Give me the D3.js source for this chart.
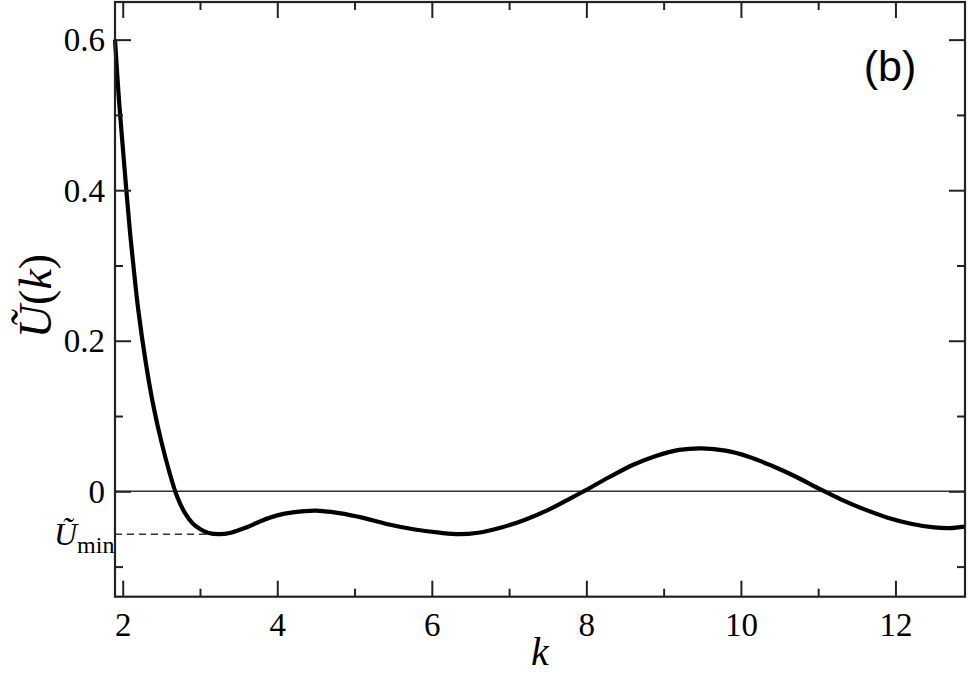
<!DOCTYPE html>
<html><head><meta charset="utf-8">
<script src="https://cdn.jsdelivr.net/npm/d3@7"></script>
<style>body{margin:0;background:#fff}svg{display:block}
.serif{font-family:"Liberation Serif","Times New Roman","DejaVu Serif",serif}
.sans{font-family:"Liberation Sans",Arial,sans-serif}
</style>
</head><body>
<script>
const kValues = [1.9,1.95,2.0,2.05,2.1,2.15,2.2,2.3,2.4,2.5,2.6,2.7,2.8,2.9,3.0,3.1,3.25,3.4,3.6,3.8,4.0,4.2,4.5,4.8,5.1,5.4,5.8,6.1,6.35,6.6,6.9,7.2,7.5,7.8,8.0,8.3,8.6,8.9,9.2,9.5,9.8,10.1,10.4,10.7,11.0,11.3,11.6,11.9,12.2,12.5,12.7,12.9];
const uValues = [0.600,0.522,0.458,0.396,0.338,0.288,0.242,0.170,0.112,0.066,0.027,-0.006,-0.028,-0.042,-0.050,-0.055,-0.057,-0.055,-0.048,-0.039,-0.032,-0.028,-0.0256,-0.029,-0.035,-0.043,-0.051,-0.055,-0.057,-0.055,-0.048,-0.038,-0.025,-0.009,0.002,0.019,0.035,0.047,0.055,0.057,0.054,0.046,0.034,0.020,0.004,-0.011,-0.024,-0.035,-0.043,-0.048,-0.049,-0.047];
const xMajorTicks = [2,4,6,8,10,12];
const xMinorTicks = [3,5,7,9,11];
const yMajorTicks = [0,0.2,0.4,0.6];
const yMinorTicks = [-0.1,0.1,0.3,0.5];
const uMin = -0.057, kMin = 3.25;

const W=970,H=675;
const L=115,R=965,T=2,B=596.7;
const svg=d3.select("body").append("svg").attr("width",W).attr("height",H);
const x=d3.scaleLinear().domain([1.9,12.9]).range([L,R]);
const y=d3.scaleLinear().domain([-0.14,0.65]).range([B,T]);

// zero line
svg.append("line").attr("x1",L).attr("x2",R).attr("y1",y(0)).attr("y2",y(0))
  .attr("stroke","#333").attr("stroke-width",1.6);
// dashed Umin line
svg.append("line").attr("x1",L).attr("x2",x(kMin)).attr("y1",y(uMin)).attr("y2",y(uMin))
  .attr("stroke","#333").attr("stroke-width",1.5).attr("stroke-dasharray","7,5");

// curve
const data=kValues.map((k,i)=>[k,uValues[i]]);
svg.append("path").datum(data)
  .attr("d",d3.line().x(d=>x(d[0])).y(d=>y(d[1])).curve(d3.curveCatmullRom.alpha(0.5)))
  .attr("fill","none").attr("stroke","#000").attr("stroke-width",4.2).attr("stroke-linejoin","round");

function addAxis(axis,transform){
  const g=svg.append("g").attr("transform",transform).call(axis);
  g.attr("font-family",null).attr("font-size",null);
  g.select(".domain").remove();
  g.selectAll("line").attr("stroke","#222").attr("stroke-width",2);
  return g;
}
addAxis(d3.axisBottom(x).tickValues(xMajorTicks).tickSize(-16).tickFormat(d3.format("d")).tickPadding(10),`translate(0,${B})`)
  .selectAll("text").attr("class","serif").style("font-size","33px").attr("fill","#000").attr("dy","0.9em");
addAxis(d3.axisBottom(x).tickValues(xMinorTicks).tickSize(-8).tickFormat(""),`translate(0,${B})`);
addAxis(d3.axisTop(x).tickValues(xMajorTicks).tickSize(-16).tickFormat(""),`translate(0,${T})`);
addAxis(d3.axisTop(x).tickValues(xMinorTicks).tickSize(-8).tickFormat(""),`translate(0,${T})`);
addAxis(d3.axisLeft(y).tickValues(yMajorTicks).tickSize(-16).tickFormat(d=>d===0?"0":d3.format(".1f")(d)).tickPadding(10),`translate(${L},0)`)
  .selectAll("text").attr("class","serif").style("font-size","33px").attr("fill","#000").attr("dy","0.33em");
addAxis(d3.axisLeft(y).tickValues(yMinorTicks).tickSize(-8).tickFormat(""),`translate(${L},0)`);
addAxis(d3.axisRight(y).tickValues(yMajorTicks).tickSize(-16).tickFormat(""),`translate(${R},0)`);
addAxis(d3.axisRight(y).tickValues(yMinorTicks).tickSize(-8).tickFormat(""),`translate(${R},0)`);

// frame
svg.append("rect").attr("x",L).attr("y",T).attr("width",R-L).attr("height",B-T)
  .attr("fill","none").attr("stroke","#222").attr("stroke-width",2.2);

// x label
svg.append("text").attr("class","serif").attr("x",540).attr("y",665).attr("text-anchor","middle")
  .style("font-style","italic").style("font-size","40px").text("k");

// y label
const yl=svg.append("text").attr("class","serif").attr("transform","translate(51,296) rotate(-90)").attr("text-anchor","middle")
  .style("font-size","46px");
yl.append("tspan").style("font-style","italic").text("Ũ");
yl.append("tspan").text("(");
yl.append("tspan").style("font-style","italic").text("k");
yl.append("tspan").text(")");

// Umin label
const ul=svg.append("text").attr("class","serif").attr("x",54).attr("y",545).style("font-size","32px");
ul.append("tspan").style("font-style","italic").text("Ũ");
ul.append("tspan").style("font-size","24px").attr("dy",8).text("min");

// panel label
svg.append("text").attr("class","sans").attr("x",890).attr("y",81).attr("text-anchor","middle")
  .style("font-size","43px").text("(b)");
</script>
</body></html>
